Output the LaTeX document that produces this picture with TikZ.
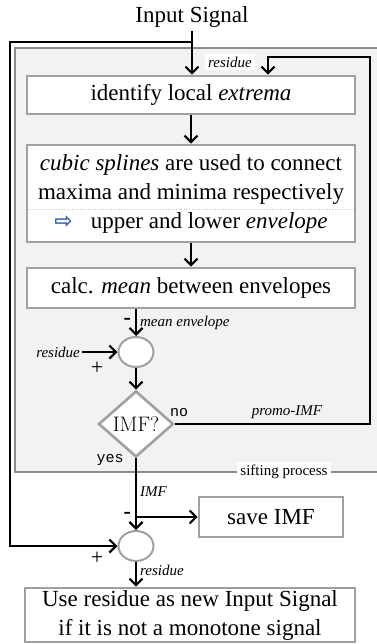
\documentclass[tikz,border=0pt]{standalone}
\usepackage{fontspec}
\usepackage{tikz}
\usetikzlibrary{arrows.meta,positioning,calc,shapes.geometric}
\newfontfamily\tnr{Liberation Serif}
\newfontfamily\monofont{Liberation Mono}
\newfontfamily\symfont{DejaVu Sans}
\definecolor{boxgray}{HTML}{A0A0A0}
\definecolor{framegray}{HTML}{8C8C8C}
\definecolor{panelfill}{HTML}{F2F2F2}
\definecolor{arrowblue}{HTML}{3A64A8}

\begin{document}
\begin{tikzpicture}[
    x=1pt, y=-1pt,
    stepbox/.style={
      draw=boxgray, line width=2.6pt, fill=white,
      font=\tnr\fontsize{23}{29}\selectfont,
      minimum width=328pt, inner sep=2pt, align=center,
    },
    sumnode/.style={
      ellipse, draw=boxgray, line width=2pt, fill=white,
      minimum width=35pt, minimum height=30pt, inner sep=0pt,
    },
    decision/.style={
      diamond, draw=boxgray, line width=2.6pt, fill=white, aspect=1.1,
      minimum width=75pt, minimum height=66pt, inner sep=0pt,
      font=\fontsize{21}{21}\selectfont,
    },
    arr/.style={-{Straight Barb[length=6.5pt,width=13pt]}, line width=2.2pt},
    lbl/.style={font=\tnr\itshape\fontsize{15}{15}\selectfont, inner sep=1pt},
    mono/.style={font=\monofont\fontsize{15}{15}\selectfont, inner sep=1pt},
    sign/.style={font=\tnr\fontsize{22}{22}\selectfont, inner sep=1pt},
  ]
  \useasboundingbox (0,0) rectangle (376,644);

  % sifting frame
  \fill[panelfill] (15,48) rectangle (382,472);
  \draw[framegray, line width=2pt] (15,48) rectangle (382,472);
  \node[font=\tnr\fontsize{15}{15}\selectfont, fill=white, inner sep=3pt] (sift) at (284,472) {sifting process};

  % input
  \node[font=\tnr\fontsize{23}{23}\selectfont] (insig) at (192,17) {Input Signal};
  \coordinate (split) at (192,42);
  \coordinate (lcorner) at (10,42);

  % steps inside the frame
  \node[stepbox, minimum height=38pt] (extr) at (191,95) {identify local \textit{extrema}};
  \node[stepbox, minimum height=97pt] (spl) at (191,193.5)
    {\textit{cubic splines} are used to connect\\
     maxima and minima respectively\\
     {\symfont\bfseries\color{arrowblue}\fontsize{22}{22}\selectfont ⇨}\hspace{18pt}upper and lower \textit{envelope}};
  \draw[boxgray!60, line width=0.6pt, dotted] ($(spl.west)+(2,15.5)$) -- ($(spl.east)+(-2,15.5)$);
  \node[stepbox, minimum height=40pt] (mean) at (191,288) {calc. \textit{mean} between envelopes};

  \node[sumnode] (sum1) at (136,352) {};
  \node[decision] (imfq) at (136,424) {IMF?};
  \coordinate (resin) at (82,352);
  \coordinate (rcorner) at (370,57);
  \coordinate (rin) at (268,57);

  % below the frame
  \node[stepbox, minimum width=144pt, minimum height=40pt] (save) at (271,517) {save IMF};
  \node[sumnode] (sum2) at (136,546) {};
  \node[stepbox, minimum width=330pt, minimum height=54pt] (final) at (190,615)
    {Use residue as new Input Signal\\if it is not a monotone signal};

  % connectors
  \draw[arr] (insig.south) -- (insig.south |- extr.north);
  \draw[arr] (split) -- (lcorner) |- (sum2.west);
  \draw[arr] (imfq.east) -| (rcorner) -- (rin) -- (rin |- extr.north);
  \node[lbl, fill=white, inner sep=3pt] (restop) at (230,62) {residue};
  \draw[arr] (extr) -- (spl);
  \draw[arr] (spl) -- (mean);
  \draw[arr] (mean.south -| sum1) -- (sum1.north)
    node[midway, right, lbl, xshift=2pt] {mean envelope}
    node[midway, left, sign, xshift=-3pt, yshift=1pt] {\textbf{-}};
  \draw[arr] (resin) -- (sum1.west)
    node[pos=0, left, lbl] {residue};
  \node[sign] at (97,368) {+};
  \draw[arr] (sum1.south) -- (imfq.north);
  \node[mono] at (179,413) {no};
  \node[lbl] at (287,412) {promo-IMF};
  \node[mono] at (110,460) {yes};
  \draw[arr] (imfq.south) -- (sum2.north)
    node[pos=0.47, right, lbl, xshift=2pt] {IMF}
    node[pos=0.8, left, sign, xshift=-3pt] {\textbf{-}};
  \draw[arr] (imfq.south |- save.west) -- (save.west);
  \node[sign] at (97,558) {+};
  \draw[arr] (sum2.south) -- (sum2.south |- final.north)
    node[pos=0.35, right, lbl, xshift=2pt] {residue};

\end{tikzpicture}
\end{document}
